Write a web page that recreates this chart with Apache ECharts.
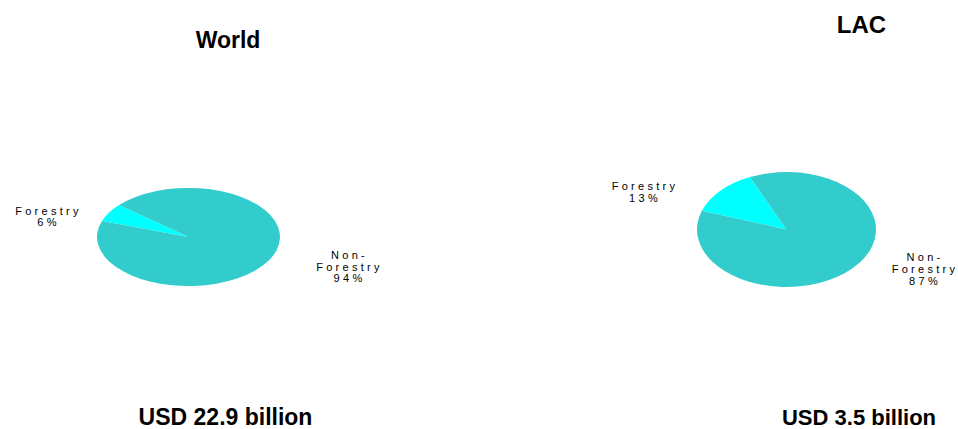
<!DOCTYPE html>
<html>
<head>
<meta charset="utf-8">
<script src="https://cdn.jsdelivr.net/npm/echarts@6/dist/echarts.min.js"></script>
<style>
  html, body { margin: 0; padding: 0; background: #fff; }
  #chart { width: 958px; height: 429px; }
  /* slice labels are set with wide tracking; bold headings keep normal spacing */
  #chart svg text { letter-spacing: 3.3px; }
  #chart svg text[style*="bold"] { letter-spacing: 0; }
</style>
</head>
<body>
<div id="chart"></div>
<script>
// Share of carbon-finance volume, forestry vs. everything else
const regions = ['World', 'LAC'];
const categories = ['Forestry', 'Non-Forestry'];
const worldShares = [6, 94];
const lacShares = [13, 87];
const totalsBillion = [22.9, 3.5];

const sliceColors = ['#00FFFF', '#33CCCC'];
const LABEL_FONT = { fontFamily: '"Liberation Sans", Arial, sans-serif', fill: '#000' };
const HEAD_FONT = { fontWeight: 'bold', fontFamily: '"Liberation Sans", Arial, sans-serif', fill: '#000' };

// first slice begins just below the 9 o'clock position and runs clockwise
const START_ANGLE = -161 * Math.PI / 180;

// a pie drawn as a flattened ellipse: each sector is scaled vertically
function ellipsePie(shares, cx, cy, r, flatten) {
  const total = shares.reduce((a, b) => a + b, 0);
  return {
    type: 'custom',
    coordinateSystem: 'none',
    silent: true,
    animation: false,
    data: shares.map((v, i) => [v, i]),
    renderItem(params, api) {
      let before = 0;
      for (let k = 0; k < params.dataIndex; k++) before += shares[k];
      const a0 = START_ANGLE + before / total * Math.PI * 2;
      const a1 = a0 + api.value(0) / total * Math.PI * 2;
      return {
        type: 'sector',
        x: cx, y: cy,
        scaleX: 1, scaleY: flatten,
        shape: { cx: 0, cy: 0, r0: 0, r: r, startAngle: a0, endAngle: a1, clockwise: true },
        style: { fill: sliceColors[api.value(1)] }
      };
    }
  };
}

function sliceLabel(shares, i) {
  return categories[i].replace('-', '-\n') + '\n' + shares[i] + '%';
}

function textEl(x, y, text, font, size, lineHeight) {
  return {
    type: 'text', x: x, y: y, silent: true,
    style: Object.assign({
      text: text,
      lineHeight: lineHeight || size * 1.2,
      align: 'center', verticalAlign: 'middle',
      textAlign: 'center', textVerticalAlign: 'middle'
    }, font, { fontSize: size })
  };
}

const chart = echarts.init(document.getElementById('chart'), null, { renderer: 'svg' });

chart.setOption({
  backgroundColor: '#fff',
  animation: false,
  series: [
    ellipsePie(worldShares, 188.5, 237, 91.5, 0.536),
    ellipsePie(lacShares, 786.5, 229.5, 89.5, 0.642)
  ],
  graphic: [
    // headings
    textEl(228, 40, regions[0], HEAD_FONT, 23),
    textEl(861.5, 24, regions[1], HEAD_FONT, 24),
    textEl(225.5, 417, 'USD ' + totalsBillion[0] + ' billion', HEAD_FONT, 23),
    textEl(859, 417, 'USD ' + totalsBillion[1] + ' billion', HEAD_FONT, 22),
    // slice labels
    textEl(48.5, 216.5, sliceLabel(worldShares, 0), LABEL_FONT, 11, 11),
    textEl(349.5, 266.5, sliceLabel(worldShares, 1), LABEL_FONT, 11, 11.5),
    textEl(645, 192, sliceLabel(lacShares, 0), LABEL_FONT, 11, 11.5),
    textEl(925, 268.5, sliceLabel(lacShares, 1), LABEL_FONT, 11, 12)
  ]
});
</script>
</body>
</html>
